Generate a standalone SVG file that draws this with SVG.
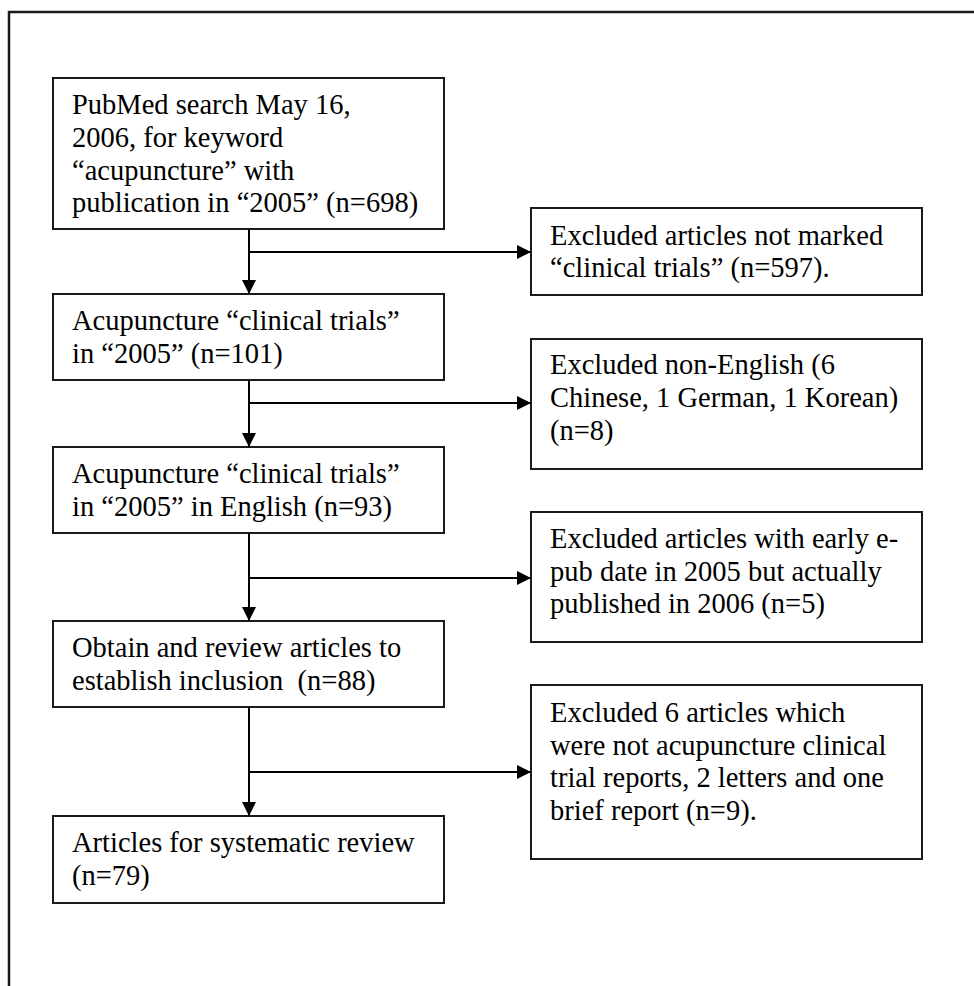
<svg xmlns="http://www.w3.org/2000/svg" width="974" height="986" viewBox="0 0 974 986">
<style>
.box{fill:#fff;stroke:#1a1a1a;stroke-width:2}
.t{font-family:"Liberation Serif","Times New Roman",serif;font-size:28.5px;fill:#000}
.c{fill:none;stroke:#000;stroke-width:2}
.frame{fill:none;stroke:#1a1a1a;stroke-width:2.5}
</style>
<defs>
<marker id="ah" markerWidth="14" markerHeight="14" viewBox="0 0 14 14" refX="14" refY="7" orient="auto" markerUnits="userSpaceOnUse">
<path d="M0,0 L14,7 L0,14 Z" fill="#000"/>
</marker>
</defs>
<rect width="974" height="986" fill="#fff"/>
<path class="frame" d="M9,986 V12 H974"/>
<g id="n1"><rect class="box" x="53" y="78" width="391" height="151"/>
<text class="t" x="72" y="114">PubMed search May 16,</text>
<text class="t" x="72" y="147">2006, for keyword</text>
<text class="t" x="72" y="180">“acupuncture” with</text>
<text class="t" x="72" y="212">publication in “2005” (n=698)</text></g>
<g id="n2"><rect class="box" x="53" y="294" width="391" height="86"/>
<text class="t" x="72" y="330">Acupuncture “clinical trials”</text>
<text class="t" x="72" y="363">in “2005” (n=101)</text></g>
<g id="n3"><rect class="box" x="53" y="447" width="391" height="86"/>
<text class="t" x="72" y="483">Acupuncture “clinical trials”</text>
<text class="t" x="72" y="516">in “2005” in English (n=93)</text></g>
<g id="n4"><rect class="box" x="53" y="621" width="391" height="86"/>
<text class="t" x="72" y="657">Obtain and review articles to</text>
<text class="t" x="72" y="690" xml:space="preserve">establish inclusion  (n=88)</text></g>
<g id="n5"><rect class="box" x="53" y="816" width="391" height="87"/>
<text class="t" x="72" y="852">Articles for systematic review</text>
<text class="t" x="72" y="885">(n=79)</text></g>
<g id="e1"><rect class="box" x="531" y="208" width="391" height="87"/>
<text class="t" x="550" y="245">Excluded articles not marked</text>
<text class="t" x="550" y="277">“clinical trials” (n=597).</text></g>
<g id="e2"><rect class="box" x="531" y="339" width="391" height="130"/>
<text class="t" x="550" y="374">Excluded non-English (6</text>
<text class="t" x="550" y="407">Chinese, 1 German, 1 Korean)</text>
<text class="t" x="550" y="440">(n=8)</text></g>
<g id="e3"><rect class="box" x="531" y="512" width="391" height="130"/>
<text class="t" x="550" y="548">Excluded articles with early e-</text>
<text class="t" x="550" y="581">pub date in 2005 but actually</text>
<text class="t" x="550" y="613">published in 2006 (n=5)</text></g>
<g id="e4"><rect class="box" x="531" y="685" width="391" height="174"/>
<text class="t" x="550" y="722">Excluded 6 articles which</text>
<text class="t" x="550" y="755">were not acupuncture clinical</text>
<text class="t" x="550" y="787">trial reports, 2 letters and one</text>
<text class="t" x="550" y="820">brief report (n=9).</text></g>
<g id="connectors">
<path class="c" d="M249,229 V294" marker-end="url(#ah)"/>
<path class="c" d="M249,252 H531" marker-end="url(#ah)"/>
<path class="c" d="M249,380 V447" marker-end="url(#ah)"/>
<path class="c" d="M249,403 H531" marker-end="url(#ah)"/>
<path class="c" d="M249,533 V621" marker-end="url(#ah)"/>
<path class="c" d="M249,578 H531" marker-end="url(#ah)"/>
<path class="c" d="M249,707 V816" marker-end="url(#ah)"/>
<path class="c" d="M249,772 H531" marker-end="url(#ah)"/>
</g>
</svg>
